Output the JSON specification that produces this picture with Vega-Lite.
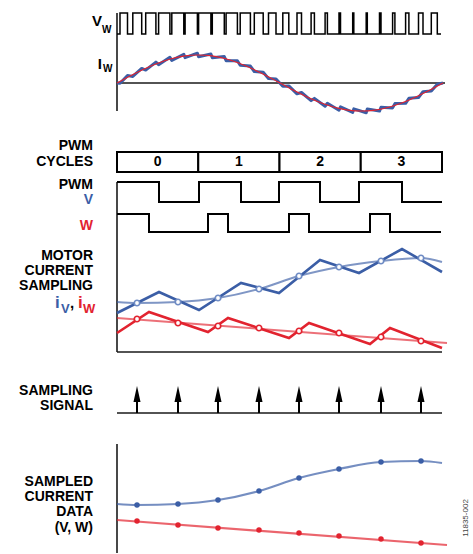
{
  "$schema": "https://vega.github.io/schema/vega-lite/v6.json",
  "width": 473,
  "height": 554,
  "padding": 0,
  "autosize": {"type": "fit", "contains": "padding"},
  "background": "white",
  "config": {"view": {"stroke": null}, "text": {"font": "Liberation Sans", "fontWeight": "bold"}},
  "datasets": {
    "axes": [
      {"x": 0, "y": 13, "x2": 0, "y2": 111},
      {"x": 0, "y": 83, "x2": 328, "y2": 83},
      {"x": 0, "y": 182, "x2": 0, "y2": 352},
      {"x": 0, "y": 352, "x2": 325, "y2": 352},
      {"x": 0, "y": 413, "x2": 325, "y2": 413},
      {"x": 0, "y": 444, "x2": 0, "y2": 553}
    ],
    "vw": [
      {"x": 0, "y": 34}, {"x": 3.0, "y": 13}, {"x": 10.5, "y": 34}, {"x": 15.8, "y": 13}, {"x": 24.7, "y": 34},
      {"x": 28.7, "y": 13}, {"x": 38.9, "y": 34}, {"x": 41.6, "y": 13}, {"x": 52.9, "y": 34}, {"x": 54.8, "y": 13},
      {"x": 66.8, "y": 34}, {"x": 68.1, "y": 13}, {"x": 80.4, "y": 34}, {"x": 81.6, "y": 13}, {"x": 93.9, "y": 34},
      {"x": 95.3, "y": 13}, {"x": 107.3, "y": 34}, {"x": 109.1, "y": 13}, {"x": 120.4, "y": 34}, {"x": 123.2, "y": 13},
      {"x": 133.4, "y": 34}, {"x": 137.3, "y": 13}, {"x": 146.2, "y": 34}, {"x": 151.5, "y": 13}, {"x": 159.0, "y": 34},
      {"x": 165.8, "y": 13}, {"x": 171.8, "y": 34}, {"x": 180.0, "y": 13}, {"x": 184.5, "y": 34}, {"x": 194.1, "y": 13},
      {"x": 197.4, "y": 34}, {"x": 208.1, "y": 13}, {"x": 210.4, "y": 34}, {"x": 222.0, "y": 13}, {"x": 223.5, "y": 34},
      {"x": 235.7, "y": 13}, {"x": 236.8, "y": 34}, {"x": 249.2, "y": 13}, {"x": 250.3, "y": 34}, {"x": 262.5, "y": 13},
      {"x": 264.0, "y": 34}, {"x": 275.6, "y": 13}, {"x": 277.9, "y": 34}, {"x": 288.6, "y": 13}, {"x": 291.9, "y": 34},
      {"x": 301.5, "y": 13}, {"x": 306.0, "y": 34}, {"x": 314.3, "y": 13}, {"x": 320.3, "y": 34}, {"x": 324, "y": 34}
    ],
    "iwr": [
      {"x": 0, "y": 83}, {"x": 3.0, "y": 83.2}, {"x": 10.5, "y": 75.6}, {"x": 15.8, "y": 76.4}, {"x": 24.7, "y": 68.4},
      {"x": 28.7, "y": 70.1}, {"x": 38.9, "y": 62.1}, {"x": 41.6, "y": 64.7}, {"x": 52.9, "y": 57.3}, {"x": 54.8, "y": 60.4},
      {"x": 66.8, "y": 54.3}, {"x": 68.1, "y": 57.7}, {"x": 80.4, "y": 53.2}, {"x": 81.6, "y": 56.8}, {"x": 93.9, "y": 54.0},
      {"x": 95.3, "y": 57.8}, {"x": 107.3, "y": 56.6}, {"x": 109.1, "y": 60.7}, {"x": 120.4, "y": 60.7}, {"x": 123.2, "y": 65.3},
      {"x": 133.4, "y": 66.1}, {"x": 137.3, "y": 71.5}, {"x": 146.2, "y": 72.3}, {"x": 151.5, "y": 78.6}, {"x": 159.0, "y": 79.0},
      {"x": 165.8, "y": 86.3}, {"x": 171.8, "y": 85.9}, {"x": 180.0, "y": 93.8}, {"x": 184.5, "y": 92.5}, {"x": 194.1, "y": 100.6},
      {"x": 197.4, "y": 98.4}, {"x": 208.1, "y": 106.2}, {"x": 210.4, "y": 103.3}, {"x": 222.0, "y": 110.2}, {"x": 223.5, "y": 106.9},
      {"x": 235.7, "y": 112.4}, {"x": 236.8, "y": 108.9}, {"x": 249.2, "y": 112.7}, {"x": 250.3, "y": 109.0}, {"x": 262.5, "y": 111.1},
      {"x": 264.0, "y": 107.2}, {"x": 275.6, "y": 107.9}, {"x": 277.9, "y": 103.6}, {"x": 288.6, "y": 103.3}, {"x": 291.9, "y": 98.3},
      {"x": 301.5, "y": 97.6}, {"x": 306.0, "y": 91.7}, {"x": 314.3, "y": 91.0}, {"x": 320.3, "y": 84.3}, {"x": 326, "y": 83}
    ],
    "iw": [
      {"x": 0, "y": 83}, {"x": 13.6, "y": 75.75}, {"x": 27.2, "y": 69}, {"x": 40.8, "y": 63.2}, {"x": 54.3, "y": 58.75},
      {"x": 67.9, "y": 55.95}, {"x": 81.5, "y": 55}, {"x": 95.1, "y": 55.95}, {"x": 108.7, "y": 58.75}, {"x": 122.3, "y": 63.2},
      {"x": 135.8, "y": 69}, {"x": 149.4, "y": 75.75}, {"x": 163, "y": 83}, {"x": 176.6, "y": 90.25}, {"x": 190.2, "y": 97},
      {"x": 203.8, "y": 102.8}, {"x": 217.3, "y": 107.25}, {"x": 230.9, "y": 110.05}, {"x": 244.5, "y": 111}, {"x": 258.1, "y": 110.05},
      {"x": 271.7, "y": 107.25}, {"x": 285.3, "y": 102.8}, {"x": 298.8, "y": 97}, {"x": 312.4, "y": 90.25}, {"x": 326, "y": 83}
    ],
    "cycles": [
      {"x": 0, "x2": 81.25, "y": 152, "y2": 172},
      {"x": 81.25, "x2": 162.5, "y": 152, "y2": 172},
      {"x": 162.5, "x2": 243.75, "y": 152, "y2": 172},
      {"x": 243.75, "x2": 325, "y": 152, "y2": 172}
    ],
    "cyclelabels": [
      {"x": 40.6, "y": 162, "label": "0"},
      {"x": 121.9, "y": 162, "label": "1"},
      {"x": 203.1, "y": 162, "label": "2"},
      {"x": 284.4, "y": 162, "label": "3"}
    ],
    "pwm": [
      {"s": "V", "x": 0, "y": 182}, {"s": "V", "x": 42, "y": 202}, {"s": "V", "x": 82, "y": 182}, {"s": "V", "x": 124, "y": 202},
      {"s": "V", "x": 162, "y": 182}, {"s": "V", "x": 203, "y": 202}, {"s": "V", "x": 242, "y": 182}, {"s": "V", "x": 285, "y": 202},
      {"s": "V", "x": 325, "y": 202},
      {"s": "W", "x": 0, "y": 214}, {"s": "W", "x": 32, "y": 232}, {"s": "W", "x": 91, "y": 214}, {"s": "W", "x": 111, "y": 232},
      {"s": "W", "x": 172, "y": 214}, {"s": "W", "x": 192, "y": 232}, {"s": "W", "x": 253, "y": 214}, {"s": "W", "x": 273, "y": 232},
      {"s": "W", "x": 324, "y": 232}
    ],
    "motorzig": [
      {"s": "V", "x": 0, "y": 313}, {"s": "V", "x": 42, "y": 292}, {"s": "V", "x": 82, "y": 310}, {"s": "V", "x": 124, "y": 283},
      {"s": "V", "x": 162, "y": 293}, {"s": "V", "x": 203, "y": 260}, {"s": "V", "x": 242, "y": 273}, {"s": "V", "x": 285, "y": 249},
      {"s": "V", "x": 325, "y": 272},
      {"s": "W", "x": 0, "y": 333}, {"s": "W", "x": 32, "y": 312}, {"s": "W", "x": 91, "y": 332}, {"s": "W", "x": 111, "y": 318},
      {"s": "W", "x": 172, "y": 338}, {"s": "W", "x": 192, "y": 323}, {"s": "W", "x": 253, "y": 344}, {"s": "W", "x": 273, "y": 328},
      {"s": "W", "x": 325, "y": 348}
    ],
    "motorsmooth": [
      {"s": "V", "x": 0, "y": 302}, {"s": "V", "x": 20, "y": 303}, {"s": "V", "x": 61, "y": 302}, {"s": "V", "x": 101, "y": 298},
      {"s": "V", "x": 142, "y": 289}, {"s": "V", "x": 182, "y": 276}, {"s": "V", "x": 222, "y": 267}, {"s": "V", "x": 264, "y": 261},
      {"s": "V", "x": 304, "y": 258}, {"s": "V", "x": 325, "y": 262},
      {"s": "W", "x": 0, "y": 318}, {"s": "W", "x": 330, "y": 343}
    ],
    "motorpts": [
      {"s": "V", "x": 20, "y": 303}, {"s": "V", "x": 61, "y": 302}, {"s": "V", "x": 101, "y": 298}, {"s": "V", "x": 142, "y": 289},
      {"s": "V", "x": 182, "y": 276}, {"s": "V", "x": 222, "y": 267}, {"s": "V", "x": 264, "y": 261}, {"s": "V", "x": 304, "y": 258},
      {"s": "W", "x": 20, "y": 319}, {"s": "W", "x": 61, "y": 323}, {"s": "W", "x": 101, "y": 326}, {"s": "W", "x": 142, "y": 328},
      {"s": "W", "x": 182, "y": 331}, {"s": "W", "x": 222, "y": 333}, {"s": "W", "x": 264, "y": 337}, {"s": "W", "x": 304, "y": 341}
    ],
    "stems": [
      {"x": 20, "y": 413, "y2": 399}, {"x": 61, "y": 413, "y2": 399}, {"x": 101, "y": 413, "y2": 399}, {"x": 142, "y": 413, "y2": 399},
      {"x": 182, "y": 413, "y2": 399}, {"x": 222, "y": 413, "y2": 399}, {"x": 264, "y": 413, "y2": 399}, {"x": 304, "y": 413, "y2": 399}
    ],
    "heads": [
      {"x": 20, "y": 394}, {"x": 61, "y": 394}, {"x": 101, "y": 394}, {"x": 142, "y": 394},
      {"x": 182, "y": 394}, {"x": 222, "y": 394}, {"x": 264, "y": 394}, {"x": 304, "y": 394}
    ],
    "sampledline": [
      {"s": "V", "x": 0, "y": 504}, {"s": "V", "x": 20, "y": 505}, {"s": "V", "x": 61, "y": 504}, {"s": "V", "x": 101, "y": 500},
      {"s": "V", "x": 142, "y": 491}, {"s": "V", "x": 182, "y": 478}, {"s": "V", "x": 222, "y": 469}, {"s": "V", "x": 264, "y": 462},
      {"s": "V", "x": 304, "y": 461}, {"s": "V", "x": 325, "y": 463},
      {"s": "W", "x": 0, "y": 520}, {"s": "W", "x": 330, "y": 545}
    ],
    "sampledpts": [
      {"s": "V", "x": 20, "y": 505}, {"s": "V", "x": 61, "y": 504}, {"s": "V", "x": 101, "y": 500}, {"s": "V", "x": 142, "y": 491},
      {"s": "V", "x": 182, "y": 478}, {"s": "V", "x": 222, "y": 469}, {"s": "V", "x": 264, "y": 462}, {"s": "V", "x": 304, "y": 461},
      {"s": "W", "x": 20, "y": 521}, {"s": "W", "x": 61, "y": 525}, {"s": "W", "x": 101, "y": 528}, {"s": "W", "x": 142, "y": 530},
      {"s": "W", "x": 182, "y": 533}, {"s": "W", "x": 222, "y": 536}, {"s": "W", "x": 264, "y": 539}, {"s": "W", "x": 304, "y": 543}
    ],
    "headings": [
      {"x": -24, "y": 146, "label": "PWM"},
      {"x": -24, "y": 162, "label": "CYCLES"},
      {"x": -24, "y": 184.5, "label": "PWM"},
      {"x": -24, "y": 256, "label": "MOTOR"},
      {"x": -24, "y": 271, "label": "CURRENT"},
      {"x": -24, "y": 286, "label": "SAMPLING"},
      {"x": -24, "y": 390.5, "label": "SAMPLING"},
      {"x": -24, "y": 405.5, "label": "SIGNAL"},
      {"x": -24, "y": 481.5, "label": "SAMPLED"},
      {"x": -24, "y": 496.5, "label": "CURRENT"},
      {"x": -24, "y": 512, "label": "DATA"},
      {"x": -24, "y": 528, "label": "(V, W)"}
    ],
    "phaselabels": [
      {"s": "V", "x": -24, "y": 199.5, "label": "V"},
      {"s": "W", "x": -24, "y": 225.5, "label": "W"}
    ],
    "ibig": [
      {"s": "V", "x": -62, "y": 308, "label": "i"},
      {"s": "W", "x": -39, "y": 308, "label": "i"}
    ],
    "isub": [
      {"s": "V", "x": -56, "y": 313, "label": "V"},
      {"s": "W", "x": -34, "y": 313, "label": "W"}
    ],
    "comma": [{"x": -47, "y": 308, "label": ","}],
    "topbig": [
      {"x": -15, "y": 21, "label": "V"},
      {"x": -15, "y": 64, "label": "I"}
    ],
    "topsub": [
      {"x": -15, "y": 30, "label": "W"},
      {"x": -14, "y": 69, "label": "W"}
    ],
    "figid": [{"x": 349, "y": 518, "label": "11835-002"}]
  },
  "encoding": {
    "x": {"field": "x", "type": "quantitative", "scale": {"domain": [-117, 356], "nice": false, "zero": false}, "axis": null},
    "y": {"field": "y", "type": "quantitative", "scale": {"domain": [0, 554], "reverse": true, "nice": false, "zero": false}, "axis": null}
  },
  "layer": [
    {"data": {"name": "axes"}, "mark": {"type": "rule", "color": "#1a1a1a", "strokeWidth": 1.6},
     "encoding": {"x2": {"field": "x2"}, "y2": {"field": "y2"}}},
    {"data": {"name": "vw"}, "mark": {"type": "line", "interpolate": "step-after", "color": "black", "strokeWidth": 1.5},
     "encoding": {}},
    {"data": {"name": "iwr"}, "mark": {"type": "line", "color": "#3B5EA6", "strokeWidth": 3, "strokeJoin": "round"},
     "encoding": {}},
    {"data": {"name": "iw"}, "mark": {"type": "line", "interpolate": "natural", "color": "#E2232F", "strokeWidth": 1.2},
     "encoding": {}},
    {"data": {"name": "cycles"}, "mark": {"type": "rect", "fill": "white", "stroke": "black", "strokeWidth": 2},
     "encoding": {"x2": {"field": "x2"}, "y2": {"field": "y2"}}},
    {"data": {"name": "cyclelabels"}, "mark": {"type": "text", "fontSize": 14, "align": "center", "baseline": "middle", "color": "black"},
     "encoding": {"text": {"field": "label"}}},
    {"data": {"name": "pwm"}, "mark": {"type": "line", "interpolate": "step-after", "color": "black", "strokeWidth": 2},
     "encoding": {"detail": {"field": "s"}}},
    {"data": {"name": "motorsmooth"}, "mark": {"type": "line", "interpolate": "monotone", "strokeWidth": 2, "opacity": 0.65},
     "encoding": {"color": {"field": "s", "type": "nominal", "scale": {"domain": ["V", "W"], "range": ["#3B5EA6", "#E2232F"]}, "legend": null}}},
    {"data": {"name": "motorzig"}, "mark": {"type": "line", "strokeWidth": 2.6, "strokeJoin": "miter"},
     "encoding": {"color": {"field": "s", "type": "nominal", "scale": {"domain": ["V", "W"], "range": ["#3B5EA6", "#E2232F"]}, "legend": null}}},
    {"data": {"name": "motorpts"}, "mark": {"type": "point", "filled": false, "fill": "white", "fillOpacity": 1, "size": 30, "strokeWidth": 1.7, "opacity": 1},
     "encoding": {"stroke": {"field": "s", "type": "nominal", "scale": {"domain": ["V", "W"], "range": ["#6F8CC4", "#E2232F"]}, "legend": null}}},
    {"data": {"name": "stems"}, "mark": {"type": "rule", "color": "black", "strokeWidth": 2},
     "encoding": {"y2": {"field": "y2"}}},
    {"data": {"name": "heads"}, "mark": {"type": "point", "shape": "M0,-1L0.44,1L-0.44,1Z", "filled": true, "color": "black", "size": 256, "opacity": 1},
     "encoding": {}},
    {"data": {"name": "sampledline"}, "mark": {"type": "line", "interpolate": "monotone", "strokeWidth": 2.2, "opacity": 0.7},
     "encoding": {"color": {"field": "s", "type": "nominal", "scale": {"domain": ["V", "W"], "range": ["#3B5EA6", "#E2232F"]}, "legend": null}}},
    {"data": {"name": "sampledpts"}, "mark": {"type": "point", "filled": true, "size": 30, "opacity": 1},
     "encoding": {"color": {"field": "s", "type": "nominal", "scale": {"domain": ["V", "W"], "range": ["#3B5EA6", "#E2232F"]}, "legend": null}}},
    {"data": {"name": "headings"}, "mark": {"type": "text", "fontSize": 14, "align": "right", "baseline": "middle", "color": "black"},
     "encoding": {"text": {"field": "label"}}},
    {"data": {"name": "phaselabels"}, "mark": {"type": "text", "fontSize": 14, "align": "right", "baseline": "middle"},
     "encoding": {"text": {"field": "label"}, "color": {"field": "s", "type": "nominal", "scale": {"domain": ["V", "W"], "range": ["#3B5EA6", "#E2232F"]}, "legend": null}}},
    {"data": {"name": "ibig"}, "mark": {"type": "text", "fontSize": 17, "align": "left", "baseline": "alphabetic"},
     "encoding": {"text": {"field": "label"}, "color": {"field": "s", "type": "nominal", "scale": {"domain": ["V", "W"], "range": ["#3B5EA6", "#E2232F"]}, "legend": null}}},
    {"data": {"name": "isub"}, "mark": {"type": "text", "fontSize": 13, "align": "left", "baseline": "alphabetic"},
     "encoding": {"text": {"field": "label"}, "color": {"field": "s", "type": "nominal", "scale": {"domain": ["V", "W"], "range": ["#3B5EA6", "#E2232F"]}, "legend": null}}},
    {"data": {"name": "comma"}, "mark": {"type": "text", "fontSize": 15, "align": "left", "baseline": "alphabetic", "color": "black"},
     "encoding": {"text": {"field": "label"}}},
    {"data": {"name": "topbig"}, "mark": {"type": "text", "fontSize": 15, "align": "right", "baseline": "middle", "color": "black"},
     "encoding": {"text": {"field": "label"}}},
    {"data": {"name": "topsub"}, "mark": {"type": "text", "fontSize": 10, "align": "left", "baseline": "middle", "color": "black"},
     "encoding": {"text": {"field": "label"}}},
    {"data": {"name": "figid"}, "mark": {"type": "text", "fontSize": 8, "fontWeight": "normal", "angle": 270, "align": "center", "baseline": "middle", "color": "#444"},
     "encoding": {"text": {"field": "label"}}}
  ]
}
